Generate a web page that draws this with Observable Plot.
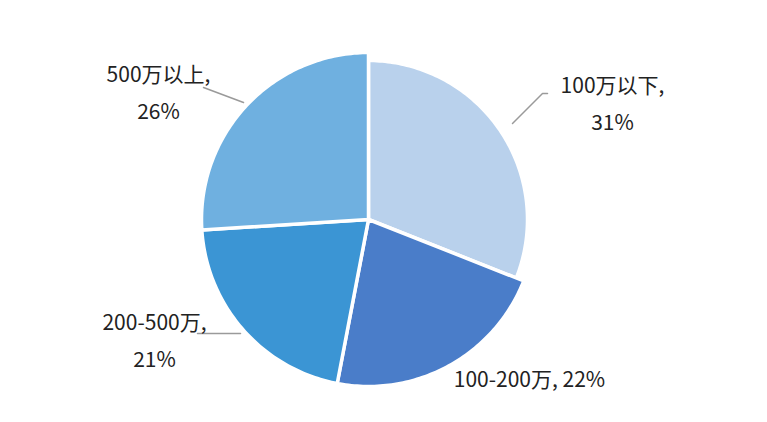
<!DOCTYPE html>
<html><head><meta charset="utf-8">
<script src="https://cdn.jsdelivr.net/npm/d3@7"></script>
<script src="https://cdn.jsdelivr.net/npm/@observablehq/plot@0.6"></script>
<style>body{margin:0;background:#fff}</style>
</head><body><div id="chart"></div>
<script>
// ---- data ----
const categories = ["100万以下", "100-200万", "200-500万", "500万以上"];
const shares = [31, 22, 21, 26];

// ---- styles / layout (kept separate from data) ----
const colors = ["#b9d1ec", "#4a7dc9", "#3b95d4", "#6fb0e0"];
const W = 767, H = 422;
const center = [368, 219];
const radii = [159, 167, 167, 167];
const labelLayout = [
  {x: 612, y: 86, split: true},
  {x: 529, y: 380, split: false},
  {x: 154, y: 323, split: true},
  {x: 158, y: 75, split: true}
];
const lineGap = 37;
const leaderLayout = [
  [[512, 123], [542, 93], [547, 93]],
  [],
  [[197, 333], [240, 333]],
  [[203, 87], [243, 102]]
];

// ---- build slices from data ----
const total = d3.sum(shares);
const slicePts = [];
let acc = 0;
categories.forEach((cat, i) => {
  const a0 = acc / total * 2 * Math.PI;
  acc += shares[i];
  const a1 = acc / total * 2 * Math.PI;
  const r = radii[i];
  slicePts.push({cat, x: center[0], y: center[1]});
  const n = Math.max(2, Math.ceil((a1 - a0) / (Math.PI / 180)));
  for (let k = 0; k <= n; k++) {
    const a = a0 + (a1 - a0) * k / n;
    slicePts.push({cat, x: center[0] + r * Math.sin(a), y: center[1] - r * Math.cos(a)});
  }
  slicePts.push({cat, x: center[0], y: center[1]});
});

const labelRows = [];
categories.forEach((cat, i) => {
  const L = labelLayout[i];
  if (L.split) {
    labelRows.push({x: L.x, y: L.y, text: cat + ","});
    labelRows.push({x: L.x, y: L.y + lineGap, text: shares[i] + "%"});
  } else {
    labelRows.push({x: L.x, y: L.y, text: cat + ", " + shares[i] + "%"});
  }
});

const leaderPts = [];
leaderLayout.forEach((pts, i) => pts.forEach(p => leaderPts.push({k: categories[i], x: p[0], y: p[1]})));

const chart = Plot.plot({
  width: W, height: H,
  margin: 0,
  x: {domain: [0, W], range: [0, W], axis: null},
  y: {domain: [0, H], range: [0, H], axis: null},
  color: {domain: categories, range: colors},
  style: {background: "#fff"},
  marks: [
    Plot.line(slicePts, {x: "x", y: "y", z: "cat", fill: "cat", stroke: "white", strokeWidth: 3.5, strokeLinejoin: "round"}),
    Plot.line(leaderPts, {x: "x", y: "y", z: "k", stroke: "#9a9a9a", strokeWidth: 1.5}),
    Plot.text(labelRows, {x: "x", y: "y", text: "text", fontSize: 21, fontFamily: "Noto Sans CJK SC", fill: "#222", textAnchor: "middle"})
  ]
});
document.getElementById("chart").appendChild(chart);
</script>
</body></html>
